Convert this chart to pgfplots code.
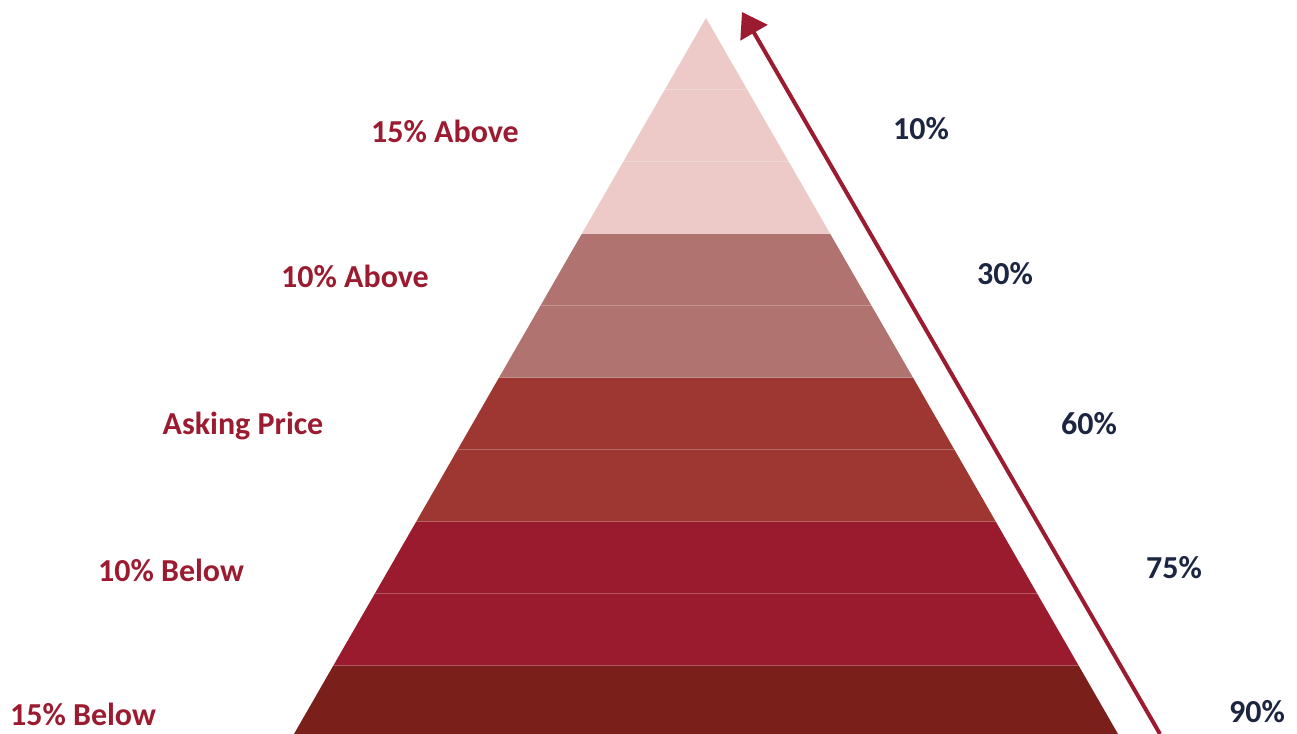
\documentclass[border=0pt]{standalone}
\usepackage{fontspec}
\setmainfont{Carlito}
\usepackage{pgfplots}
\pgfplotsset{compat=1.18}
\usetikzlibrary{arrows.meta}
\definecolor{cPink}{HTML}{EDCAC8}
\definecolor{cMauve}{HTML}{B07370}
\definecolor{cBrick}{HTML}{9E3731}
\definecolor{cCrimson}{HTML}{9A1B2E}
\definecolor{cDark}{HTML}{7B1F1A}
\definecolor{cLabel}{HTML}{9B1B30}
\definecolor{cNavy}{HTML}{1C2541}
\begin{document}
\begin{tikzpicture}
\begin{axis}[
  scale only axis, width=972.75pt, height=550.5pt,
  xmin=0, xmax=1297, ymin=0, ymax=734,
  hide axis, clip=true,
]
% pyramid rows (pixel x, y measured upward)
\addplot[fill=cPink, draw=none] coordinates {(706,716) (747.4,644) (664.6,644)} -- cycle;
\addplot[fill=cPink, draw=none] coordinates {(664.6,644) (747.4,644) (788.9,572) (623.1,572)} -- cycle;
\addplot[fill=cPink, draw=none] coordinates {(623.1,572) (788.9,572) (830.3,500) (581.7,500)} -- cycle;
\addplot[fill=cMauve, draw=none] coordinates {(581.7,500) (830.3,500) (871.7,428) (540.3,428)} -- cycle;
\addplot[fill=cMauve, draw=none] coordinates {(540.3,428) (871.7,428) (913.2,356) (498.8,356)} -- cycle;
\addplot[fill=cBrick, draw=none] coordinates {(498.8,356) (913.2,356) (954.6,284) (457.4,284)} -- cycle;
\addplot[fill=cBrick, draw=none] coordinates {(457.4,284) (954.6,284) (996,212) (416,212)} -- cycle;
\addplot[fill=cCrimson, draw=none] coordinates {(416,212) (996,212) (1037.4,140) (374.6,140)} -- cycle;
\addplot[fill=cCrimson, draw=none] coordinates {(374.6,140) (1037.4,140) (1078.9,68) (333.1,68)} -- cycle;
\addplot[fill=cDark, draw=none] coordinates {(333.1,68) (1078.9,68) (1118,0) (294,0)} -- cycle;
% faint row separators
\addplot[white, draw opacity=0.25, line width=0.75pt] coordinates {(664.6,644) (747.4,644)};
\addplot[white, draw opacity=0.25, line width=0.75pt] coordinates {(623.1,572) (788.9,572)};
\addplot[white, draw opacity=0.25, line width=0.75pt] coordinates {(581.7,500) (830.3,500)};
\addplot[white, draw opacity=0.25, line width=0.75pt] coordinates {(540.3,428) (871.7,428)};
\addplot[white, draw opacity=0.25, line width=0.75pt] coordinates {(498.8,356) (913.2,356)};
\addplot[white, draw opacity=0.25, line width=0.75pt] coordinates {(457.4,284) (954.6,284)};
\addplot[white, draw opacity=0.25, line width=0.75pt] coordinates {(416,212) (996,212)};
\addplot[white, draw opacity=0.25, line width=0.75pt] coordinates {(374.6,140) (1037.4,140)};
\addplot[white, draw opacity=0.25, line width=0.75pt] coordinates {(333.1,68) (1078.9,68)};
% arrow
\addplot[cLabel, line width=3pt, -{Triangle[length=18pt, width=23pt]}] coordinates {(1160,0) (742,722)};
% labels
\begin{scope}[every node/.style={font=\fontsize{24}{28}\selectfont\bfseries}]
\node[text=cLabel] at (axis cs:445,603) {15\% Above};
\node[text=cLabel] at (axis cs:355,458) {10\% Above};
\node[text=cLabel] at (axis cs:243,308) {Asking Price};
\node[text=cLabel] at (axis cs:171,164) {10\% Below};
\node[text=cLabel] at (axis cs:83,20) {15\% Below};
\node[text=cNavy] at (axis cs:921,605) {10\%};
\node[text=cNavy] at (axis cs:1005,460) {30\%};
\node[text=cNavy] at (axis cs:1089,310) {60\%};
\node[text=cNavy] at (axis cs:1174,166) {75\%};
\node[text=cNavy] at (axis cs:1257,22) {90\%};
\end{scope}
\end{axis}
\pgfresetboundingbox
\path (current axis.south west) rectangle (current axis.north east);
\end{tikzpicture}
\end{document}
